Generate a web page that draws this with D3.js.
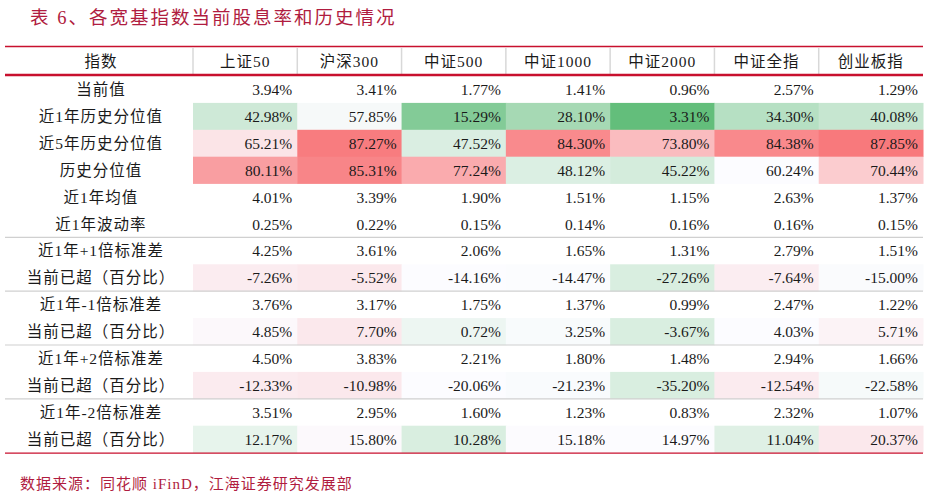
<!DOCTYPE html>
<html>
<head>
<meta charset="utf-8">
<script src="https://cdn.jsdelivr.net/npm/d3@7/dist/d3.min.js"></script>
<style>
  body { margin: 0; background: #fff; }
  text { font-family: "Liberation Serif", "Noto Sans CJK SC", serif; fill: #1a1a1a; }
</style>
</head>
<body>
<div id="table"></div>
<script>
// data
var title = "表 6、各宽基指数当前股息率和历史情况";
var source = "数据来源：同花顺 iFinD，江海证券研究发展部";
var indices = ["上证50", "沪深300", "中证500", "中证1000", "中证2000", "中证全指", "创业板指"];
var rowLabels = ["当前值", "近1年历史分位值", "近5年历史分位值", "历史分位值", "近1年均值", "近1年波动率",
  "近1年+1倍标准差", "当前已超（百分比）", "近1年-1倍标准差", "当前已超（百分比）",
  "近1年+2倍标准差", "当前已超（百分比）", "近1年-2倍标准差", "当前已超（百分比）"];
var values = [
  [3.94, 3.41, 1.77, 1.41, 0.96, 2.57, 1.29],
  [42.98, 57.85, 15.29, 28.10, 3.31, 34.30, 40.08],
  [65.21, 87.27, 47.52, 84.30, 73.80, 84.38, 87.85],
  [80.11, 85.31, 77.24, 48.12, 45.22, 60.24, 70.44],
  [4.01, 3.39, 1.90, 1.51, 1.15, 2.63, 1.37],
  [0.25, 0.22, 0.15, 0.14, 0.16, 0.16, 0.15],
  [4.25, 3.61, 2.06, 1.65, 1.31, 2.79, 1.51],
  [-7.26, -5.52, -14.16, -14.47, -27.26, -7.64, -15.00],
  [3.76, 3.17, 1.75, 1.37, 0.99, 2.47, 1.22],
  [4.85, 7.70, 0.72, 3.25, -3.67, 4.03, 5.71],
  [4.50, 3.83, 2.21, 1.80, 1.48, 2.94, 1.66],
  [-12.33, -10.98, -20.06, -21.23, -35.20, -12.54, -22.58],
  [3.51, 2.95, 1.60, 1.23, 0.83, 2.32, 1.07],
  [12.17, 15.80, 10.28, 15.18, 14.97, 11.04, 20.37]
];
var percentileRows = [1, 2, 3];
var exceedRows = [7, 9, 11, 13];
var separatorBefore = [6, 8, 10, 12];

var W = 928, H = 498;
var tLeft = 5, tRight = 923, labelW = 188, tTop = 47, headH = 27, rowH = 26.9;

var svg = d3.select("#table").append("svg").attr("width", W).attr("height", H);

var x = d3.scaleBand().domain(d3.range(indices.length)).range([tLeft + labelW, tRight]);
var y = d3.scaleBand().domain(d3.range(rowLabels.length))
  .range([tTop + headH + 2, tTop + headH + 2 + rowH * rowLabels.length]);

// colour scales
var pctVals = [];
percentileRows.forEach(function(r) { pctVals = pctVals.concat(values[r]); });
var pctScale = d3.scaleLinear()
  .domain([d3.min(pctVals), d3.median(pctVals), d3.max(pctVals)])
  .range(["#63be7b", "#fcfcff", "#f8797c"]);
function exceedScale(row) {
  return d3.scaleLinear()
    .domain([d3.min(row), d3.median(row), d3.max(row)])
    .range(["#d9eee0", "#fcfcff", "#fbe8ec"]);
}

values.forEach(function(row, r) {
  var sc = null;
  if (percentileRows.indexOf(r) >= 0) sc = pctScale;
  if (exceedRows.indexOf(r) >= 0) sc = exceedScale(row);
  row.forEach(function(v, c) {
    if (sc) {
      svg.append("rect").attr("x", x(c)).attr("y", y(r))
        .attr("width", x.bandwidth() + 0.5).attr("height", y.bandwidth() + 0.3)
        .attr("fill", sc(v));
    }
    svg.append("text").attr("x", x(c) + x.bandwidth() - 5).attr("y", y(r) + y.bandwidth() / 2)
      .attr("dy", "0.36em").attr("text-anchor", "end").attr("font-size", 15.5)
      .text(v.toFixed(2) + "%");
  });
  svg.append("text").attr("x", tLeft + labelW / 2 + 2).attr("y", y(r) + y.bandwidth() / 2)
    .attr("dy", "0.36em").attr("text-anchor", "middle").attr("font-size", 15.5)
    .attr("letter-spacing", "1px").text(rowLabels[r]);
});

// separators
separatorBefore.forEach(function(r) {
  svg.append("line").attr("x1", tLeft).attr("x2", tRight).attr("y1", y(r)).attr("y2", y(r))
    .attr("stroke", "#d0d0d0").attr("stroke-width", 1.2);
});

// header
svg.append("text").attr("x", tLeft + labelW / 2 + 2).attr("y", tTop + headH / 2 + 1)
  .attr("dy", "0.36em").attr("text-anchor", "middle").attr("font-size", 15.5)
  .attr("letter-spacing", "1px").text("指数");
indices.forEach(function(name, c) {
  svg.append("text").attr("x", x(c) + x.bandwidth() / 2).attr("y", tTop + headH / 2 + 1)
    .attr("dy", "0.36em").attr("text-anchor", "middle").attr("font-size", 15.5)
    .attr("letter-spacing", "1px").text(name);
  svg.append("line").attr("x1", x(c)).attr("x2", x(c)).attr("y1", tTop + 1).attr("y2", tTop + headH)
    .attr("stroke", "#d8d8d8").attr("stroke-width", 1.5);
});

svg.append("line").attr("x1", tLeft).attr("x2", tRight).attr("y1", tTop - 0.5).attr("y2", tTop - 0.5)
  .attr("stroke", "#c8102e").attr("stroke-width", 1.3);
svg.append("line").attr("x1", tLeft).attr("x2", tRight).attr("y1", tTop + headH + 1).attr("y2", tTop + headH + 1)
  .attr("stroke", "#c8102e").attr("stroke-width", 2.5);
var tBottom = y(rowLabels.length - 1) + y.bandwidth();
svg.append("line").attr("x1", tLeft).attr("x2", tRight).attr("y1", tBottom + 0.5).attr("y2", tBottom + 0.5)
  .attr("stroke", "#c8102e").attr("stroke-width", 1.3);

// title and source
svg.append("text").attr("x", 30).attr("y", 17).attr("dy", "0.36em").attr("font-size", 18.5)
  .attr("letter-spacing", "2px").style("fill", "#b01c40").text(title);
svg.append("text").attr("x", 20).attr("y", 484).attr("dy", "0.36em").attr("font-size", 15)
  .attr("letter-spacing", "1px").style("fill", "#b01c40").text(source);
</script>
</body>
</html>
